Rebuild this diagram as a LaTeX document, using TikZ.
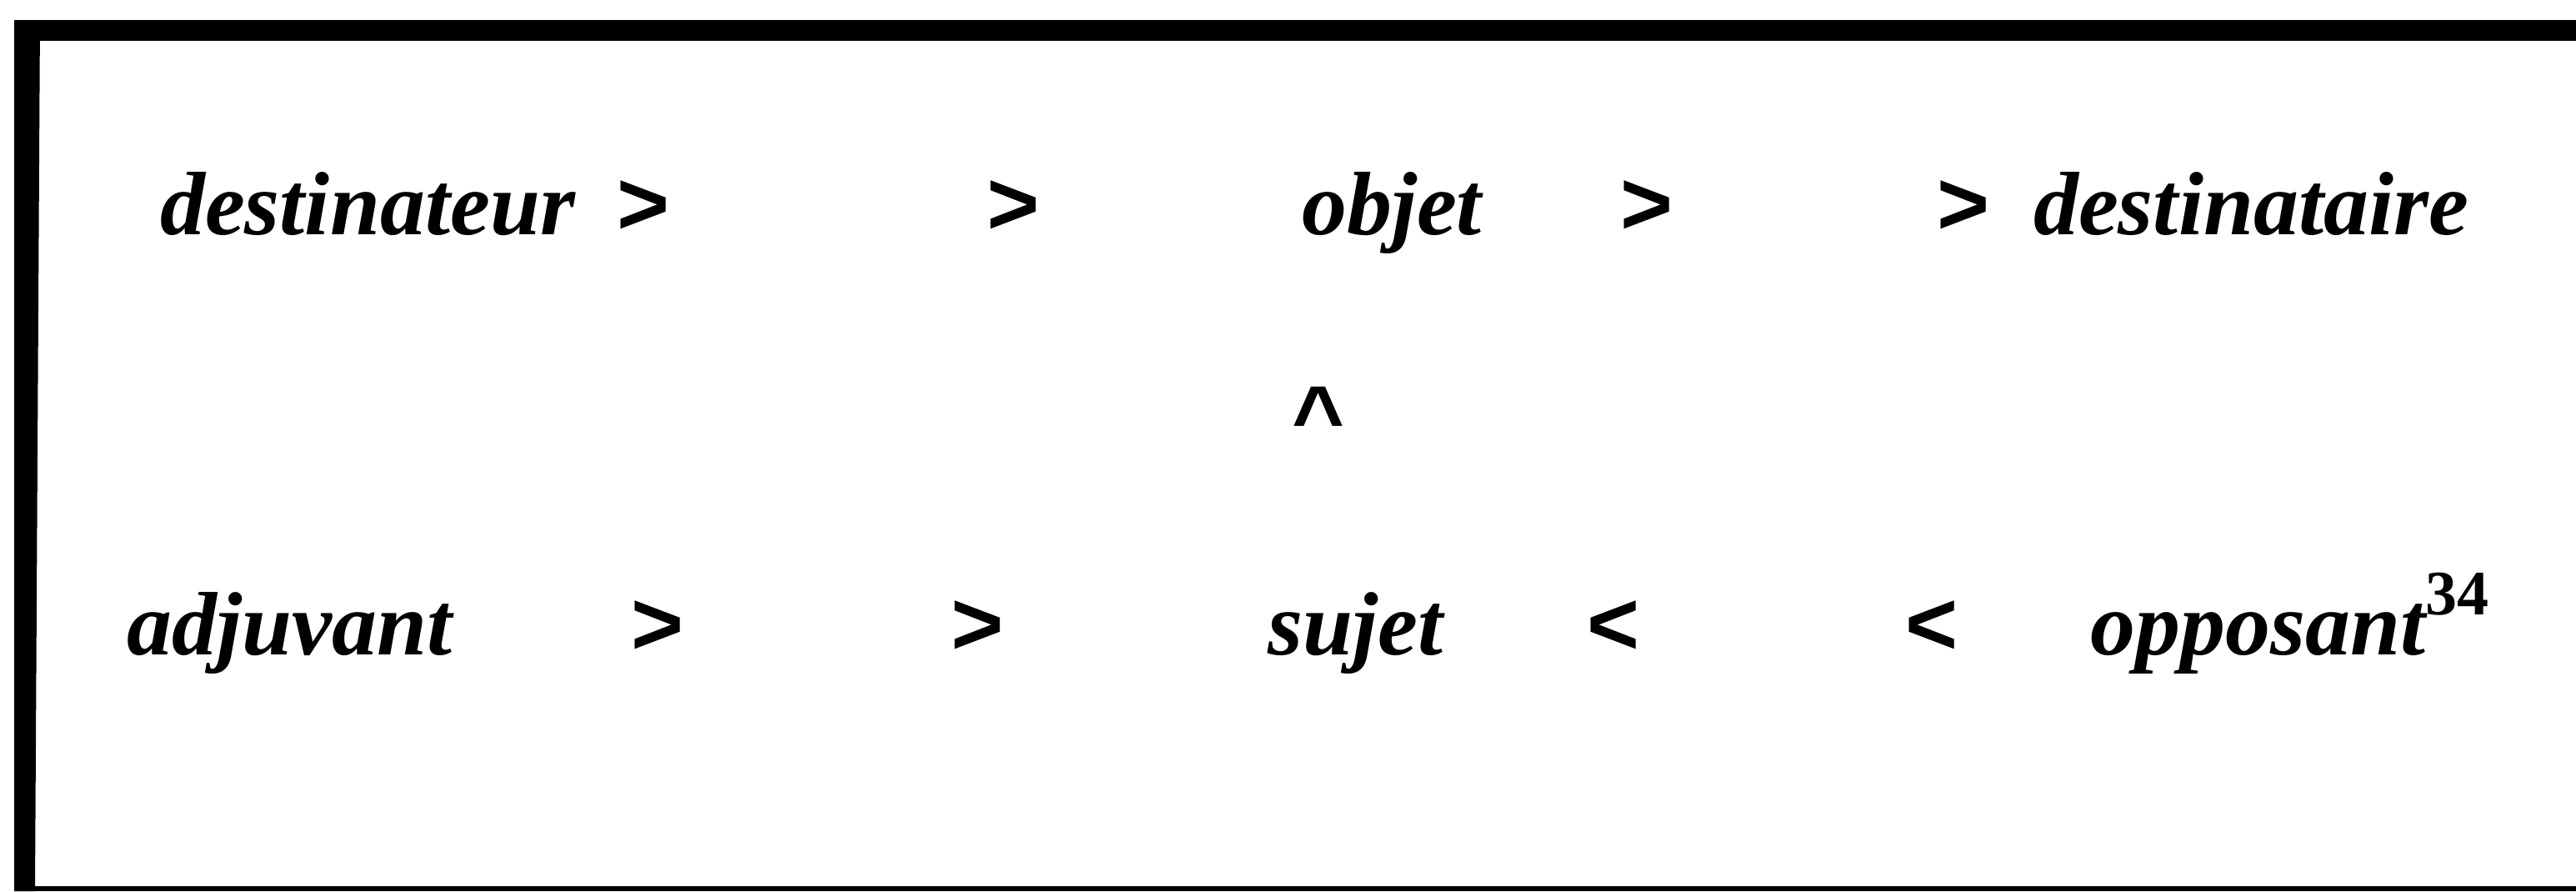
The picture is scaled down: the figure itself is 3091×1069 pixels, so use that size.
\documentclass[tikz,border=0pt]{standalone}
\usepackage{fontspec}
\setmainfont{Liberation Serif}
\newfontfamily\symfont{Liberation Sans}
\begin{document}
\begin{tikzpicture}[x=1pt,y=-1pt,
  txt/.style={anchor=base west, inner sep=0pt, outer sep=0pt,
    font=\fontsize{108}{120}\selectfont\bfseries\itshape},
  sym/.style={anchor=base west, inner sep=0pt, outer sep=0pt,
    font=\fontsize{108}{120}\selectfont\symfont\bfseries},
  frameink/.style={fill=black}]
\useasboundingbox (0,0) rectangle (3091,1069);
% frame
\fill[frameink] (17,24) rectangle (3091,49);
\fill[frameink] (17,24) -- (48,24) -- (42,1069) -- (17,1069) -- cycle;
\fill[frameink] (17,1063) rectangle (3091,1069);
% row 1
\node[txt] (dtr) at (192,281) {destinateur};
\node[sym] (g1) at (740,281) {>};
\node[sym] (g2) at (1184,281) {>};
\node[txt] (obj) at (1562,281) {objet};
\node[sym] (g3) at (1944,281) {>};
\node[sym] (g4) at (2324,281) {>};
\node[txt] (dta) at (2440,281) {destinataire};
% caret
\node[sym] (car) at (1550,538) {\textasciicircum};
% row 2
\node[txt] (adj) at (152,785) {adjuvant};
\node[sym] (g5) at (757,785) {>};
\node[sym] (g6) at (1141,785) {>};
\node[txt] (suj) at (1521,785) {sujet};
\node[sym] (l1) at (1904,785) {<};
\node[sym] (l2) at (2286,785) {<};
\node[txt] (opp) at (2508,785) {opposant\raisebox{48pt}{\fontsize{76}{76}\selectfont\upshape 34}};
\end{tikzpicture}
\end{document}
